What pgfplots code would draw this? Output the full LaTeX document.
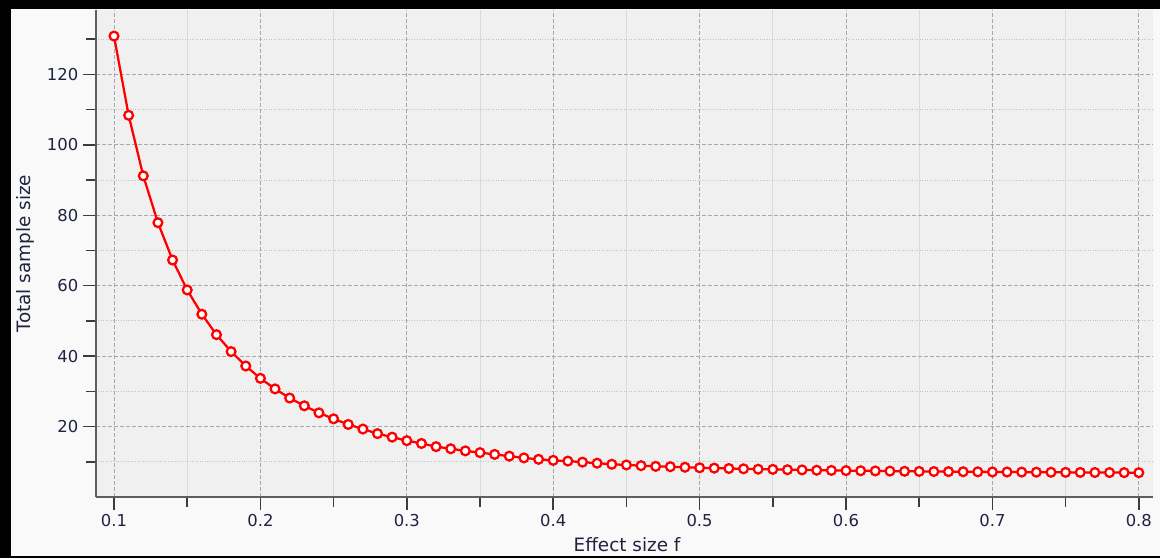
\documentclass[border=0pt]{standalone}
\usepackage{pgfplots}
\pgfplotsset{compat=1.18}
\usepackage{fontspec}
\setmainfont{DejaVu Sans}

\definecolor{outerbg}{HTML}{F9F9F9}
\definecolor{plotbg}{HTML}{F0F0F0}
\definecolor{axisgray}{HTML}{5E5E5E}
\definecolor{tickgray}{HTML}{3C3C3C}
\definecolor{majgrid}{HTML}{A8A8A8}
\definecolor{mingridy}{HTML}{C2C2C2}
\definecolor{mingridx}{HTML}{DADADA}
\definecolor{labelc}{HTML}{1F2340}
\definecolor{curve}{HTML}{FF0000}

% total sample size against effect size f
\pgfplotstableread{
f     N
0.10  130.9
0.11  108.4
0.12  91.2
0.13  77.9
0.14  67.3
0.15  58.8
0.16  51.9
0.17  46.1
0.18  41.3
0.19  37.2
0.20  33.7
0.21  30.7
0.22  28.1
0.23  25.9
0.24  23.9
0.25  22.2
0.26  20.6
0.27  19.3
0.28  18.0
0.29  17.0
0.30  16.0
0.31  15.2
0.32  14.3
0.33  13.7
0.34  13.1
0.35  12.6
0.36  12.1
0.37  11.6
0.38  11.1
0.39  10.7
0.40  10.4
0.41  10.2
0.42  9.9
0.43  9.6
0.44  9.3
0.45  9.1
0.46  8.9
0.47  8.7
0.48  8.6
0.49  8.45
0.50  8.3
0.51  8.2
0.52  8.1
0.53  8.0
0.54  7.9
0.55  7.85
0.56  7.75
0.57  7.7
0.58  7.6
0.59  7.55
0.60  7.5
0.61  7.45
0.62  7.4
0.63  7.35
0.64  7.3
0.65  7.27
0.66  7.24
0.67  7.21
0.68  7.18
0.69  7.15
0.70  7.12
0.71  7.1
0.72  7.07
0.73  7.05
0.74  7.02
0.75  7.0
0.76  6.98
0.77  6.96
0.78  6.94
0.79  6.92
0.80  6.9
}\samplesize

\begin{document}
\begin{tikzpicture}
% window background and frame
\path[use as bounding box, fill=outerbg] (0,0) rectangle (870pt,418.5pt);
\fill[black] (0,411.75pt) rectangle (870pt,418.5pt);
\fill[black] (0,0) rectangle (8.25pt,418.5pt);
\fill[black] (0,0) rectangle (870pt,1.5pt);

\begin{axis}[
  at={(72pt,45.75pt)}, anchor=south west,
  scale only axis,
  width=792.75pt, height=365.25pt,
  xmin=0.0877, xmax=0.8097,
  ymin=0, ymax=138.3,
  axis background/.style={fill=plotbg},
  axis lines*=left,
  axis line style={draw=axisgray, line width=1.5pt},
  tick align=outside,
  major tick length=9.75pt,
  minor tick length=7.5pt,
  tick style={draw=tickgray, line width=1.1pt},
  xtick={0.1,0.2,0.3,0.4,0.5,0.6,0.7,0.8},
  minor xtick={0.15,0.25,0.35,0.45,0.55,0.65,0.75},
  ytick={20,40,60,80,100,120},
  minor ytick={10,30,50,70,90,110,130},
  xticklabel style={/pgf/number format/fixed, /pgf/number format/precision=1, /pgf/number format/fixed zerofill},
  /pgf/number format/assume math mode=true,
  ticklabel style={font=\fontsize{12.3pt}{14pt}\selectfont, text=labelc},
  grid=both,
  major x grid style={draw=majgrid, line width=0.75pt, dash pattern=on 3pt off 1.5pt},
  major y grid style={draw=majgrid, line width=0.75pt, dash pattern=on 3pt off 1.5pt},
  minor y grid style={draw=mingridy, line width=0.75pt, dash pattern=on 0.75pt off 1.1pt},
  minor x grid style={draw=mingridx, line width=0.75pt},
  xlabel={Effect size f},
  ylabel={Total sample size},
  every axis x label/.style={at={(axis description cs:0.5024,-0.0986)}, anchor=center,
    font=\fontsize{13.8pt}{16pt}\selectfont, text=labelc},
  every axis y label/.style={at={(axis description cs:-0.0672,0.5)}, anchor=center, rotate=90,
    font=\fontsize{13.8pt}{16pt}\selectfont, text=labelc},
]
\addplot[color=curve, line width=1.7pt,
  mark=*, mark size=3.3pt,
  mark options={fill=white, draw=curve, line width=1.7pt}]
  table[x=f, y=N] {\samplesize};
\end{axis}
\end{tikzpicture}
\end{document}
